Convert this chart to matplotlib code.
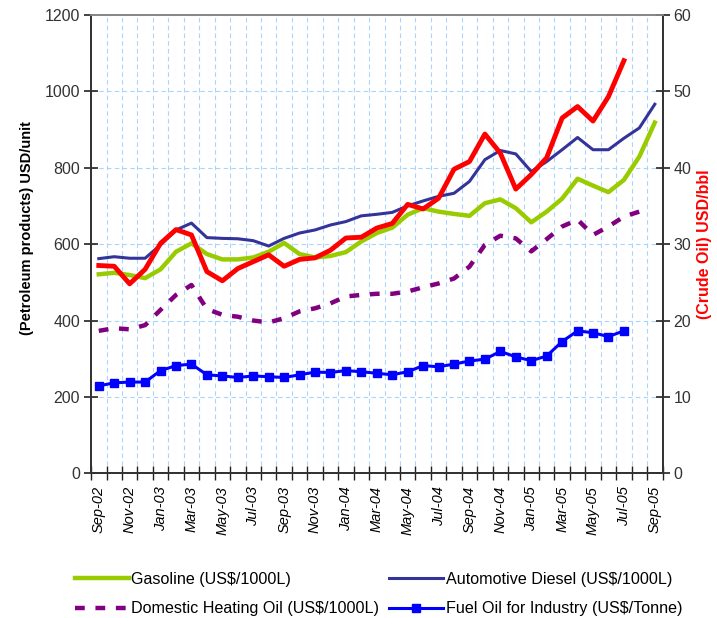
import numpy as np
import matplotlib
matplotlib.use('Agg')
import matplotlib.pyplot as plt

plt.rcParams['font.family'] = ['Liberation Sans', 'DejaVu Sans']

# months Sep-02 .. Sep-05
months = ['Sep-02', 'Oct-02', 'Nov-02', 'Dec-02', 'Jan-03', 'Feb-03', 'Mar-03', 'Apr-03',
          'May-03', 'Jun-03', 'Jul-03', 'Aug-03', 'Sep-03', 'Oct-03', 'Nov-03', 'Dec-03',
          'Jan-04', 'Feb-04', 'Mar-04', 'Apr-04', 'May-04', 'Jun-04', 'Jul-04', 'Aug-04',
          'Sep-04', 'Oct-04', 'Nov-04', 'Dec-04', 'Jan-05', 'Feb-05', 'Mar-05', 'Apr-05',
          'May-05', 'Jun-05', 'Jul-05', 'Aug-05', 'Sep-05']

gasoline = [521, 525, 519, 511, 534, 580, 602, 574, 560, 560, 565, 580, 603, 574,
            565, 569, 579, 607, 629, 643, 677, 694, 685, 679, 674, 707, 717, 694,
            657, 685, 719, 771, 753, 736, 768, 829, 918]
diesel = [562, 567, 563, 563, 598, 637, 655, 617, 615, 614, 609, 595, 615, 629,
          637, 650, 659, 674, 678, 683, 700, 713, 725, 733, 764, 821, 845, 836,
          790, 816, 847, 879, 847, 847, 877, 904, 966]
heating = [373, 380, 377, 388, 428, 467, 493, 430, 415, 410, 400, 395, 406, 424,
           432, 445, 463, 467, 470, 470, 476, 487, 497, 510, 541, 598, 622, 615,
           581, 613, 646, 664, 624, 646, 672, 685]
fuel_oil = [229, 237, 239, 239, 269, 282, 286, 258, 255, 251, 255, 253, 251, 258,
            265, 264, 269, 266, 262, 258, 266, 282, 279, 286, 294, 299, 319, 305,
            295, 307, 345, 373, 368, 358, 373]
crude = [27.2, 27.1, 24.8, 26.7, 30.1, 31.9, 31.2, 26.4, 25.2, 26.8, 27.7, 28.6,
         27.1, 28.0, 28.2, 29.2, 30.8, 30.9, 32.1, 32.7, 35.2, 34.6, 36.0, 39.8,
         40.8, 44.4, 41.9, 37.2, 39.1, 41.3, 46.5, 48.0, 46.1, 49.3, 54.0]

fig = plt.figure(figsize=(7.17, 6.18), dpi=100)
ax = fig.add_axes([0.127, 0.234, 0.797, 0.742])
ax2 = ax.twinx()

grid_color = '#a8d4ff'

l1, = ax.plot(range(len(gasoline)), gasoline, color='#99cc00', lw=3.2, label='Gasoline (US$/1000L)')
l2, = ax.plot(range(len(diesel)), diesel, color='#333399', lw=2.2, label='Automotive Diesel (US$/1000L)')
l3, = ax.plot(range(len(heating)), heating, color='#800080', lw=3.2, dashes=(2.2, 2.4),
              label='Domestic Heating Oil (US$/1000L)')
l4, = ax.plot(range(len(fuel_oil)), fuel_oil, color='#0000ff', lw=2.2, marker='s', ms=5.5,
              label='Fuel Oil for Industry (US$/Tonne)')
ax2.plot(range(len(crude)), crude, color='#ff0000', lw=3.5)

ax.set_xlim(-0.5, len(months) - 0.5)
ax.set_ylim(0, 1200)
ax2.set_ylim(0, 60)
ax.set_yticks(range(0, 1201, 200))
ax2.set_yticks(range(0, 61, 10))

# labels every second month, ticks between categories
ax.set_xticks(range(0, len(months), 2))
ax.set_xticklabels(months[::2], rotation=90, style='italic', fontsize=10.5)
ax.set_xticks(np.arange(-0.5, len(months), 1), minor=True)
ax.tick_params(axis='x', which='major', length=0, pad=9)
ax.tick_params(axis='x', which='minor', length=10, direction='inout', width=1, color='#222222')
for a in (ax, ax2):
    a.tick_params(axis='y', labelsize=11.5, length=10, width=1.2, direction='inout',
                  color='#222222', labelcolor='#333333', pad=3)

ax.grid(True, which='minor', axis='x', color=grid_color, ls=(0, (4, 3)), lw=0.8)
ax.grid(True, which='major', axis='y', color=grid_color, ls=(0, (4, 3)), lw=0.8)
ax.set_axisbelow(True)

for a in (ax, ax2):
    for s in a.spines.values():
        s.set_color('#333333')
        s.set_linewidth(1.3)
ax2.spines['top'].set_color('#888888')
ax.spines['top'].set_color('#888888')

ax.set_ylabel('(Petroleum products) USD/unit', fontsize=10.5, fontweight='bold')
ax.yaxis.set_label_coords(-0.099, 0.535)
ax2.set_ylabel('(Crude Oil) USD/bbl', fontsize=11.5, fontweight='bold', color='#ff0000', labelpad=4)

fig.legend(handles=[l1, l3, l2, l4], loc='lower left', bbox_to_anchor=(75 / 717, 0.003),
           ncol=2, frameon=False, fontsize=11.6, handlelength=3.35, columnspacing=0.62,
           handletextpad=0.15, labelspacing=0.9, borderpad=0, borderaxespad=0)

fig.savefig('out.png', dpi=100)
